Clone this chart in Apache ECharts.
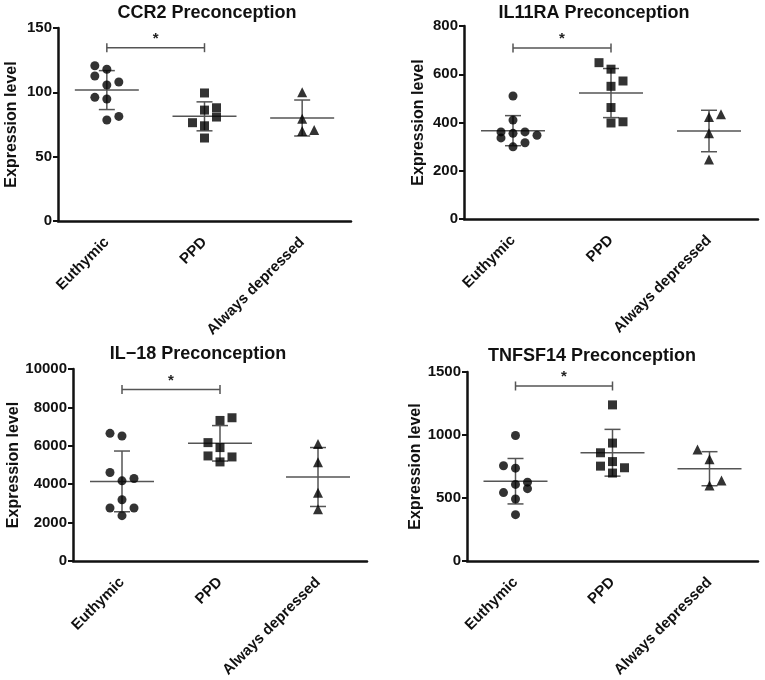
<!DOCTYPE html>
<html>
<head>
<meta charset="utf-8">
<script src="https://cdn.jsdelivr.net/npm/echarts@6/dist/echarts.min.js"></script>
<style>
html,body{margin:0;padding:0;background:#fff;}
#c{width:765px;height:680px;}
</style>
</head>
<body>
<div id="c"></div>
<script>
// ---- data ----
const categories = ['Euthymic', 'PPD', 'Always depressed'];
const titles = ['CCR2 Preconception', 'IL11RA Preconception', 'IL\u221218 Preconception', 'TNFSF14 Preconception'];
const yMax = [150, 800, 10000, 1500];
const yInterval = [50, 200, 2000, 500];
const bracketLevel = [134.7, 709, 8930, 1389];

const ccr2Euthymic = [120.7, 117.9, 112.7, 108, 105.7, 96.1, 94.8, 81.3, 78.5];
const ccr2PPD = [99.5, 88, 86.2, 80.8, 76.4, 74, 64.5];
const ccr2Always = [100, 79.5, 70, 70.7];

const il11raEuthymic = [510, 410, 361, 355, 361, 347, 336, 316, 299];
const il11raPPD = [648, 621, 572, 550, 462, 398, 403];
const il11raAlways = [423, 434, 355, 247];

const il18Euthymic = [6648, 6508, 4611, 4176, 4300, 3192, 2762, 2762, 2363];
const il18PPD = [7461, 7321, 6166, 5907, 5472, 5420, 5161];
const il18Always = [6100, 5150, 3550, 2700];

const tnfsf14Euthymic = [996, 756, 737, 626, 608, 574, 543, 492, 368];
const tnfsf14PPD = [1239, 936, 859, 789, 753, 740, 698];
const tnfsf14Always = [884, 807, 639, 600];

// jitter slot of each point (left / centre / right of the column)
const ccr2EuthymicSlot = [-1, 0, -1, 1, 0, -1, 0, 1, 0];
const ccr2PPDSlot = [0, 1, 0, 1, -1, 0, 0];
const ccr2AlwaysSlot = [0, 0, 0, 1];
const il11raEuthymicSlot = [0, 0, -1, 0, 1, 2, -1, 1, 0];
const il11raPPDSlot = [-1, 0, 1, 0, 0, 0, 1];
const il11raAlwaysSlot = [0, 1, 0, 0];
const il18EuthymicSlot = [-1, 0, -1, 0, 1, 0, -1, 1, 0];
const il18PPDSlot = [1, 0, -1, 0, -1, 1, 0];
const il18AlwaysSlot = [0, 0, 0, 0];
const tnfsf14EuthymicSlot = [0, -1, 0, 1, 0, 1, -1, 0, 0];
const tnfsf14PPDSlot = [0, 0, -1, 0, -1, 1, 0];
const tnfsf14AlwaysSlot = [-1, 0, 1, 0];

// ---- layout / style ----
const panels = [
  {groups: [ccr2Euthymic, ccr2PPD, ccr2Always], slots: [ccr2EuthymicSlot, ccr2PPDSlot, ccr2AlwaysSlot],
   grid: {left: 58, top: 28, width: 293, height: 193}, titleX: 207, titleY: 4, nameGap: 38},
  {groups: [il11raEuthymic, il11raPPD, il11raAlways], slots: [il11raEuthymicSlot, il11raPPDSlot, il11raAlwaysSlot],
   grid: {left: 464, top: 26, width: 294, height: 193}, titleX: 594, titleY: 4, nameGap: 37},
  {groups: [il18Euthymic, il18PPD, il18Always], slots: [il18EuthymicSlot, il18PPDSlot, il18AlwaysSlot],
   grid: {left: 73, top: 369, width: 294, height: 193}, titleX: 198, titleY: 345, nameGap: 50},
  {groups: [tnfsf14Euthymic, tnfsf14PPD, tnfsf14Always], slots: [tnfsf14EuthymicSlot, tnfsf14PPDSlot, tnfsf14AlwaysSlot],
   grid: {left: 467, top: 372, width: 291, height: 193}, titleX: 592, titleY: 347, nameGap: 39}
];
const symbols = ['circle', 'rect', 'triangle'];
const symbolSizes = [9, 9, 10];
const FONT = '"Liberation Sans", Arial, sans-serif';
const LINE_GRAY = '#555';

function mean(a) { return a.reduce((s, v) => s + v, 0) / a.length; }
function sd(a) { const m = mean(a); return Math.sqrt(a.reduce((s, v) => s + (v - m) * (v - m), 0) / (a.length - 1)); }

const option = {
  backgroundColor: '#fff',
  animation: false,
  title: [], grid: [], xAxis: [], yAxis: [], series: []
};

panels.forEach((p, i) => {
  option.title.push({
    text: titles[i], left: p.titleX, top: p.titleY, textAlign: 'center', padding: 0,
    textStyle: {fontFamily: FONT, fontSize: 18, fontWeight: 'bold', color: '#111'}
  });
  option.grid.push(Object.assign({containLabel: false}, p.grid));
  option.xAxis.push({
    type: 'category', gridIndex: i, data: categories, boundaryGap: true,
    axisLine: {lineStyle: {color: '#111', width: 2.5}},
    axisTick: {alignWithLabel: true, length: 5, lineStyle: {color: '#111', width: 2.5}},
    axisLabel: {rotate: 45, interval: 0, margin: 19, fontFamily: FONT, fontSize: 15, fontWeight: 'bold', color: '#111'},
    splitLine: {show: false}
  });
  option.yAxis.push({
    type: 'value', gridIndex: i, min: 0, max: yMax[i], interval: yInterval[i],
    name: 'Expression level', nameLocation: 'middle', nameGap: p.nameGap,
    nameTextStyle: {fontFamily: FONT, fontSize: 16, fontWeight: 'bold', color: '#111'},
    axisLine: {show: true, lineStyle: {color: '#111', width: 2.5}},
    axisTick: {show: true, length: 5, lineStyle: {color: '#111', width: 2}},
    axisLabel: {margin: 6, fontFamily: FONT, fontSize: 15, fontWeight: 'bold', color: '#111',
                formatter: v => String(v)},
    splitLine: {show: false}
  });
  // mean +/- SD
  const stats = p.groups.map((g, k) => [k, mean(g), sd(g)]);
  option.series.push({
    type: 'custom', xAxisIndex: i, yAxisIndex: i, z: 2,
    encode: {x: 0, y: 1},
    data: stats,
    renderItem: function (params, api) {
      const x = api.value(0), m = api.value(1), s = api.value(2);
      const c = api.coord([x, m]);
      const hi = api.coord([x, m + s]);
      const lo = api.coord([x, m - s]);
      const st = {stroke: LINE_GRAY, lineWidth: 1.5};
      return {type: 'group', children: [
        {type: 'line', shape: {x1: c[0] - 32, y1: c[1], x2: c[0] + 32, y2: c[1]}, style: st},
        {type: 'line', shape: {x1: c[0], y1: hi[1], x2: c[0], y2: lo[1]}, style: st},
        {type: 'line', shape: {x1: c[0] - 8, y1: hi[1], x2: c[0] + 8, y2: hi[1]}, style: st},
        {type: 'line', shape: {x1: c[0] - 8, y1: lo[1], x2: c[0] + 8, y2: lo[1]}, style: st}
      ]};
    }
  });
  // significance bracket
  option.series.push({
    type: 'custom', xAxisIndex: i, yAxisIndex: i, z: 2,
    encode: {x: 0, y: 2},
    data: [[0, 1, bracketLevel[i]]],
    renderItem: function (params, api) {
      const a = api.coord([api.value(0), api.value(2)]);
      const b = api.coord([api.value(1), api.value(2)]);
      const st = {stroke: LINE_GRAY, lineWidth: 1.5};
      return {type: 'group', children: [
        {type: 'line', shape: {x1: a[0], y1: a[1], x2: b[0], y2: b[1]}, style: st},
        {type: 'line', shape: {x1: a[0], y1: a[1] - 4.5, x2: a[0], y2: a[1] + 4.5}, style: st},
        {type: 'line', shape: {x1: b[0], y1: b[1] - 4.5, x2: b[0], y2: b[1] + 4.5}, style: st},
        {type: 'text', x: (a[0] + b[0]) / 2, y: a[1] - 9,
         style: {text: '*', fill: '#222', font: 'bold 15px ' + FONT, textAlign: 'center', textVerticalAlign: 'middle'}}
      ]};
    }
  });
  // points
  p.groups.forEach((g, k) => {
    option.series.push({
      type: 'scatter', xAxisIndex: i, yAxisIndex: i, z: 3,
      symbol: symbols[k], symbolSize: symbolSizes[k],
      itemStyle: {color: '#000'},
      data: g.map((v, j) => ({value: [k, v], symbolOffset: [p.slots[k][j] * 12, 0]}))
    });
  });
});

const chart = echarts.init(document.getElementById('c'), null, {renderer: 'canvas'});
chart.setOption(option);
</script>
</body>
</html>
